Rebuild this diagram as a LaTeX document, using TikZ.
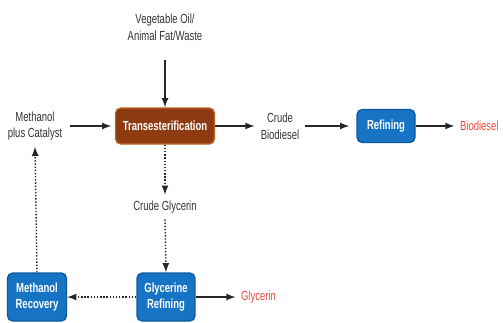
\documentclass[tikz,border=0pt]{standalone}
\usepackage{fontspec}
\setmainfont{Liberation Sans}[FakeStretch=0.72]
\usetikzlibrary{arrows}

\definecolor{transbrown}{HTML}{8E3B12}
\definecolor{transedge}{HTML}{C0652A}
\definecolor{procblue}{HTML}{1774C4}
\definecolor{procedge}{HTML}{0C5A9E}
\definecolor{prodred}{HTML}{E84A3C}

\tikzset{
  txt/.style={font=\fontsize{7.5}{9.5}\selectfont, align=center, text=black!80},
  product/.style={font=\fontsize{7.5}{9.5}\selectfont, text=prodred, inner sep=1pt},
  bluebox/.style={draw=procedge, line width=0.8pt, fill=procblue, rounded corners=3pt,
    text=white, font=\fontsize{7.5}{9.5}\selectfont\bfseries, align=center, inner sep=0pt},
  flow/.style={-latex, thick, black!85},
  recycle/.style={-latex, thick, densely dotted, black!85}
}

\begin{document}
\begin{tikzpicture}[x=0.02cm, y=-0.02cm]
\useasboundingbox (0,0) rectangle (503,322);

% Feedstock and reactor
\node[txt] (feed) at (165,27) {Vegetable Oil/\\Animal Fat/Waste};
\node[draw=transedge, line width=0.8pt, fill=transbrown, rounded corners=3pt, text=white,
  font=\fontsize{7.5}{9.5}\selectfont\bfseries, minimum width=1.98cm, minimum height=0.72cm]
  (trans) at (165,126) {Transesterification};
\node[txt] (meth) at (35,126) {Methanol\\plus Catalyst};

% Biodiesel line
\node[txt] (crudebio) at (280,126) {Crude\\Biodiesel};
\node[bluebox, minimum width=1.16cm, minimum height=0.66cm] (refine) at (386,126) {Refining};
\node[product, anchor=west] (bio) at (458,126) {Biodiesel};

% Glycerin line
\node[txt] (crudegly) at (165,207) {Crude Glycerin};
\node[bluebox, minimum width=1.16cm, minimum height=0.96cm] (grefine) at (166,297) {Glycerine\\Refining};
\node[bluebox, minimum width=1.18cm, minimum height=0.96cm] (mrecov) at (37,297) {Methanol\\Recovery};
\node[product, anchor=west] (gly) at (239,297) {Glycerin};

% Arrows
\draw[flow] (feed.south) ++(0,14) -- (trans.north);
\draw[flow] (meth.east) ++(2,0) -- ([xshift=-2pt]trans.west);
\draw[flow] (trans.east) -- (crudebio.west);
\draw[flow] (crudebio.east) -- ([xshift=-4pt]refine.west);
\draw[flow] (refine.east) -- ([xshift=-2pt]bio.west);
\draw[recycle] (trans.south) -- (crudegly.north);
\draw[recycle] (crudegly.south) -- (grefine.north);
\draw[flow] (grefine.east) -- ([xshift=-2pt]gly.west);
\draw[recycle] (grefine.west) -- (mrecov.east);
\draw[recycle] (mrecov.north) -- (meth.south);

\end{tikzpicture}
\end{document}
